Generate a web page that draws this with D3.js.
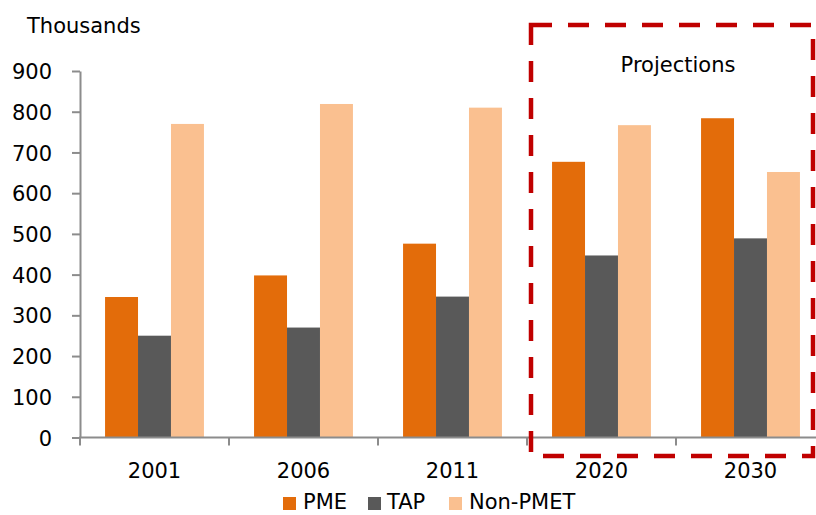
<!DOCTYPE html>
<html>
<head>
<meta charset="utf-8">
<script src="https://cdn.jsdelivr.net/npm/d3@7"></script>
<style>
  html, body { margin: 0; padding: 0; background: #fff; }
  svg { display: block; font-family: "DejaVu Sans", Verdana, sans-serif; }
</style>
</head>
<body>
<svg id="chart" width="816" height="515"></svg>
<script>
// Employment by occupation group, thousands
const years = ["2001", "2006", "2011", "2020", "2030"];
const seriesNames = ["PME", "TAP", "Non-PMET"];
const pme = [345, 398, 476, 677, 784];
const tap = [250, 270, 346, 447, 489];
const nonPmet = [770, 819, 810, 767, 652];
const yTicks = [0, 100, 200, 300, 400, 500, 600, 700, 800, 900];
const projectionYears = ["2020", "2030"];

const colors = ["#E36C0A", "#595959", "#FAC090"];
const values = [pme, tap, nonPmet];

const svg = d3.select("#chart");
const axisColor = "#8c8c8c";

const x = d3.scaleBand().domain(years).range([80, 825]).paddingInner(0).paddingOuter(0);
const inner = d3.scaleBand().domain(seriesNames)
  .range([0, x.bandwidth()]).paddingInner(0).paddingOuter(0.76);
const y = d3.scaleLinear().domain([0, 900]).range([437.5, 71]);

// bars
seriesNames.forEach((name, si) => {
  svg.append("g").selectAll("rect")
    .data(years.map((yr, i) => ({ yr, v: values[si][i] })))
    .join("rect")
    .attr("x", d => x(d.yr) + inner(name))
    .attr("width", inner.bandwidth())
    .attr("y", d => y(d.v))
    .attr("height", d => y(0) - y(d.v))
    .attr("fill", colors[si]);
});

// y axis
const yAxis = svg.append("g").attr("transform", "translate(80,0)")
  .call(d3.axisLeft(y).tickValues(yTicks).tickSize(8).tickSizeOuter(0).tickPadding(6));
yAxis.select(".domain").attr("stroke", axisColor).attr("stroke-width", 2);
yAxis.selectAll(".tick line").attr("stroke", axisColor).attr("stroke-width", 2);
yAxis.selectAll(".tick text").attr("font-size", 21).attr("fill", "#000")
  .attr("font-family", "DejaVu Sans, Verdana, sans-serif").attr("x", -28).attr("dy", "0.36em");

// x axis with ticks at category boundaries
const xAxisG = svg.append("g").attr("transform", `translate(0,${y(0)})`);
xAxisG.append("line").attr("x1", 79).attr("x2", 825).attr("y1", 0).attr("y2", 0)
  .attr("stroke", axisColor).attr("stroke-width", 2);
const bounds = years.map(yr => x(yr)).concat([x.range()[1]]);
xAxisG.selectAll("line.b").data(bounds).join("line").attr("class", "b")
  .attr("x1", d => d).attr("x2", d => d).attr("y1", 0).attr("y2", 8)
  .attr("stroke", axisColor).attr("stroke-width", 2);
xAxisG.selectAll("text").data(years).join("text")
  .attr("x", d => x(d) + x.bandwidth() / 2).attr("y", 40)
  .attr("text-anchor", "middle").attr("font-size", 21).text(d => d);

// units label
svg.append("text").attr("x", 27).attr("y", 33).attr("font-size", 21).text("Thousands");

// projections frame
const px0 = x(projectionYears[0]) + 4;
svg.append("rect")
  .attr("x", px0).attr("y", 25)
  .attr("width", 813 - px0).attr("height", 456 - 25)
  .attr("fill", "none").attr("stroke", "#C00000").attr("stroke-width", 4.5)
  .attr("stroke-dasharray", "21 16");
svg.append("text").attr("x", 678).attr("y", 72).attr("text-anchor", "middle")
  .attr("font-size", 21).text("Projections");

// legend
const legendItems = [
  { name: "PME", sx: 283, tx: 303 },
  { name: "TAP", sx: 368, tx: 387 },
  { name: "Non-PMET", sx: 449, tx: 469 }
];
const lg = svg.append("g");
legendItems.forEach((d, i) => {
  lg.append("rect").attr("x", d.sx).attr("y", 497).attr("width", 13).attr("height", 13)
    .attr("fill", colors[i]);
  lg.append("text").attr("x", d.tx).attr("y", 509).attr("font-size", 21).text(d.name);
});
</script>
</body>
</html>
